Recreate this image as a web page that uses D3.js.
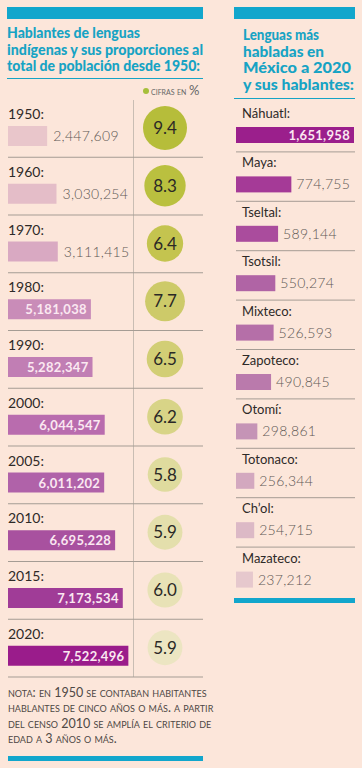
<!DOCTYPE html>
<html>
<head>
<meta charset="utf-8">
<script src="https://cdn.jsdelivr.net/npm/d3@7"></script>
<style>
  body { margin: 0; background: #fce6da; }
  svg { display: block; font-family: Lato, "Open Sans", sans-serif; }
</style>
</head>
<body>
<div id="chart"></div>
<script>
// left panel: speakers per census year + share of total population (%)
var years = ["1950", "1960", "1970", "1980", "1990", "2000", "2005", "2010", "2015", "2020"];
var speakers = [2447609, 3030254, 3111415, 5181038, 5282347, 6044547, 6011202, 6695228, 7173534, 7522496];
var shares = [9.4, 8.3, 6.4, 7.7, 6.5, 6.2, 5.8, 5.9, 6.0, 5.9];

// right panel: most spoken languages 2020
var languages = ["Náhuatl", "Maya", "Tseltal", "Tsotsil", "Mixteco", "Zapoteco", "Otomí", "Totonaco", "Ch’ol", "Mazateco"];
var langSpeakers = [1651958, 774755, 589144, 550274, 526593, 490845, 298861, 256344, 254715, 237212];

var leftTitle = ["Hablantes de lenguas", "indígenas y sus proporciones al", "total de población desde 1950:"];
var rightTitle = ["Lenguas más", "habladas en", "México a 2020", "y sus hablantes:"];
var noteLines = ["nota: en 1950 se contaban habitantes", "hablantes de cinco años o más. a partir",
                 "del censo 2010 se amplía el criterio de", "edad a 3 años o más."];

var barColors = ["#e9c6cb", "#e4bdc8", "#d9a9c2", "#c98cb8", "#c17eb4", "#b96cae", "#b062a9", "#a8519f", "#a03c97", "#9a1c8b"];
var dotColors = ["#b6bd3a", "#bac03f", "#c4c44f", "#cdca69", "#d2ce75", "#d8d487", "#dfdb9e", "#e4dfac", "#e8e2b6", "#ece5c2"];
var langColors = ["#9b1f8c", "#a53a97", "#aa4c9d", "#b064a5", "#b56fa8", "#ba7aac", "#c594b6", "#d3a8bf", "#dcb9c6", "#e6c8cd"];

var W = 362, H = 768;
var teal = "#17a3c4", blueBar = "#12a6cc", rule = "#a59c94";
var fmt = d3.format(",");

var svg = d3.select("#chart").append("svg").attr("width", W).attr("height", H);
svg.append("rect").attr("width", W).attr("height", H).attr("fill", "#fce6da");

// ---------- left panel ----------
svg.append("rect").attr("x", 7).attr("y", 7).attr("width", 196).attr("height", 12).attr("fill", blueBar);

var ltWidths = [133, 196, 193];
svg.append("g").selectAll("text").data(leftTitle).enter().append("text")
    .attr("x", 7)
    .attr("y", function(d, i) { return 38 + i * 16.5; })
    .attr("fill", teal)
    .attr("font-size", 15.5)
    .attr("font-weight", 900)
    .attr("textLength", function(d, i) { return ltWidths[i]; })
    .attr("lengthAdjust", "spacingAndGlyphs")
    .text(function(d) { return d; });

svg.append("line").attr("x1", 7).attr("x2", 203).attr("y1", 78.5).attr("y2", 78.5)
    .attr("stroke", teal).attr("stroke-width", 1);

svg.append("circle").attr("cx", 146).attr("cy", 91).attr("r", 3).attr("fill", "#a6bf3a");
svg.append("text").attr("x", 151).attr("y", 94.5).attr("fill", "#666").attr("font-size", 10)
    .style("font-variant", "small-caps").text("cifras en ")
    .append("tspan").attr("font-size", 13).text("%");

var yRow = d3.scaleBand().domain(years).range([100, 677.5]);
var xBar = d3.scaleLinear().domain([0, 8000000]).range([0, 128]);
var rDot = d3.scaleSqrt().domain([0, 9.4]).range([0, 22]);

svg.append("line").attr("x1", 133.5).attr("x2", 133.5).attr("y1", 100).attr("y2", 677)
    .attr("stroke", "#c9bdb3").attr("stroke-width", 1);

var rows = svg.append("g").selectAll("g").data(years).enter().append("g")
    .attr("transform", function(d) { return "translate(0," + yRow(d) + ")"; });

rows.append("line").attr("x1", 8).attr("x2", 203)
    .attr("y1", yRow.bandwidth() - 0.5).attr("y2", yRow.bandwidth() - 0.5)
    .attr("stroke", rule).attr("stroke-width", 1);

rows.append("text").attr("x", 8).attr("y", 19).attr("font-size", 14).attr("fill", "#2e2a28")
    .text(function(d) { return d + ":"; });

rows.append("rect").attr("x", 8).attr("y", 26).attr("height", 20)
    .attr("width", function(d, i) { return xBar(speakers[i]); })
    .attr("fill", function(d, i) { return barColors[i]; });

rows.append("text")
    .attr("x", function(d, i) {
        var w = xBar(speakers[i]);
        return w > 70 ? 8 + w - 4 : 8 + w + 6;
    })
    .attr("y", 41)
    .attr("text-anchor", function(d, i) { return xBar(speakers[i]) > 70 ? "end" : "start"; })
    .attr("font-size", function(d, i) { return xBar(speakers[i]) > 70 ? 13 : 14; })
    .attr("font-weight", function(d, i) { return xBar(speakers[i]) > 70 ? 700 : 300; })
    .attr("fill", function(d, i) { return xBar(speakers[i]) > 70 ? "#fbe8f1" : "#5f5955"; })
    .attr("letter-spacing", 0.3)
    .text(function(d, i) { return fmt(speakers[i]); });

rows.append("circle").attr("cx", 165).attr("cy", 28)
    .attr("r", function(d, i) { return rDot(shares[i]); })
    .attr("fill", function(d, i) { return dotColors[i]; });

rows.append("text").attr("x", 165).attr("y", 34).attr("text-anchor", "middle")
    .attr("font-size", 17).attr("fill", "#2b2926")
    .text(function(d, i) { return d3.format(".1f")(shares[i]); });

// note
svg.append("g").selectAll("text").data(noteLines).enter().append("text")
    .attr("x", 8)
    .attr("y", function(d, i) { return 697 + i * 15.3; })
    .attr("font-size", 12.5).attr("fill", "#4e4845")
    .style("font-variant", "small-caps")
    .text(function(d) { return d; });

svg.append("rect").attr("x", 8).attr("y", 756).attr("width", 195).attr("height", 5).attr("fill", blueBar);

// ---------- right panel ----------
svg.append("rect").attr("x", 234).attr("y", 7).attr("width", 121).attr("height", 12).attr("fill", blueBar);

var rtWidths = [76, 81, 108, 111];
svg.append("g").selectAll("text").data(rightTitle).enter().append("text")
    .attr("x", 243)
    .attr("y", function(d, i) { return 40 + i * 16.7; })
    .attr("fill", teal)
    .attr("font-size", 15)
    .attr("font-weight", 900)
    .attr("textLength", function(d, i) { return rtWidths[i]; })
    .attr("lengthAdjust", "spacingAndGlyphs")
    .text(function(d) { return d; });

svg.append("line").attr("x1", 234).attr("x2", 355).attr("y1", 98.5).attr("y2", 98.5)
    .attr("stroke", teal).attr("stroke-width", 1);

var yLang = d3.scaleBand().domain(languages).range([103, 597]);
var xLang = d3.scaleLinear().domain([0, d3.max(langSpeakers)]).range([0, 118]);

var lrows = svg.append("g").selectAll("g").data(languages).enter().append("g")
    .attr("transform", function(d) { return "translate(0," + yLang(d) + ")"; });

lrows.filter(function(d, i) { return i < languages.length - 1; })
    .append("line").attr("x1", 236).attr("x2", 355)
    .attr("y1", yLang.bandwidth() - 0.5).attr("y2", yLang.bandwidth() - 0.5)
    .attr("stroke", rule).attr("stroke-width", 1);

lrows.append("text").attr("x", 242).attr("y", 15).attr("font-size", 13).attr("fill", "#2e2a28")
    .text(function(d) { return d + ":"; });

lrows.append("rect").attr("x", 236).attr("y", 24).attr("height", 16)
    .attr("width", function(d, i) { return xLang(langSpeakers[i]); })
    .attr("fill", function(d, i) { return langColors[i]; });

lrows.append("text")
    .attr("x", function(d, i) {
        var w = xLang(langSpeakers[i]);
        return w > 100 ? 236 + w - 4 : 236 + w + 5;
    })
    .attr("y", 37)
    .attr("text-anchor", function(d, i) { return xLang(langSpeakers[i]) > 100 ? "end" : "start"; })
    .attr("font-size", function(d, i) { return xLang(langSpeakers[i]) > 100 ? 13 : 14; })
    .attr("font-weight", function(d, i) { return xLang(langSpeakers[i]) > 100 ? 700 : 300; })
    .attr("fill", function(d, i) { return xLang(langSpeakers[i]) > 100 ? "#fbe8f1" : "#5f5955"; })
    .attr("letter-spacing", 0.3)
    .text(function(d, i) { return fmt(langSpeakers[i]); });

svg.append("rect").attr("x", 234).attr("y", 598).attr("width", 121).attr("height", 5).attr("fill", blueBar);
</script>
</body>
</html>
